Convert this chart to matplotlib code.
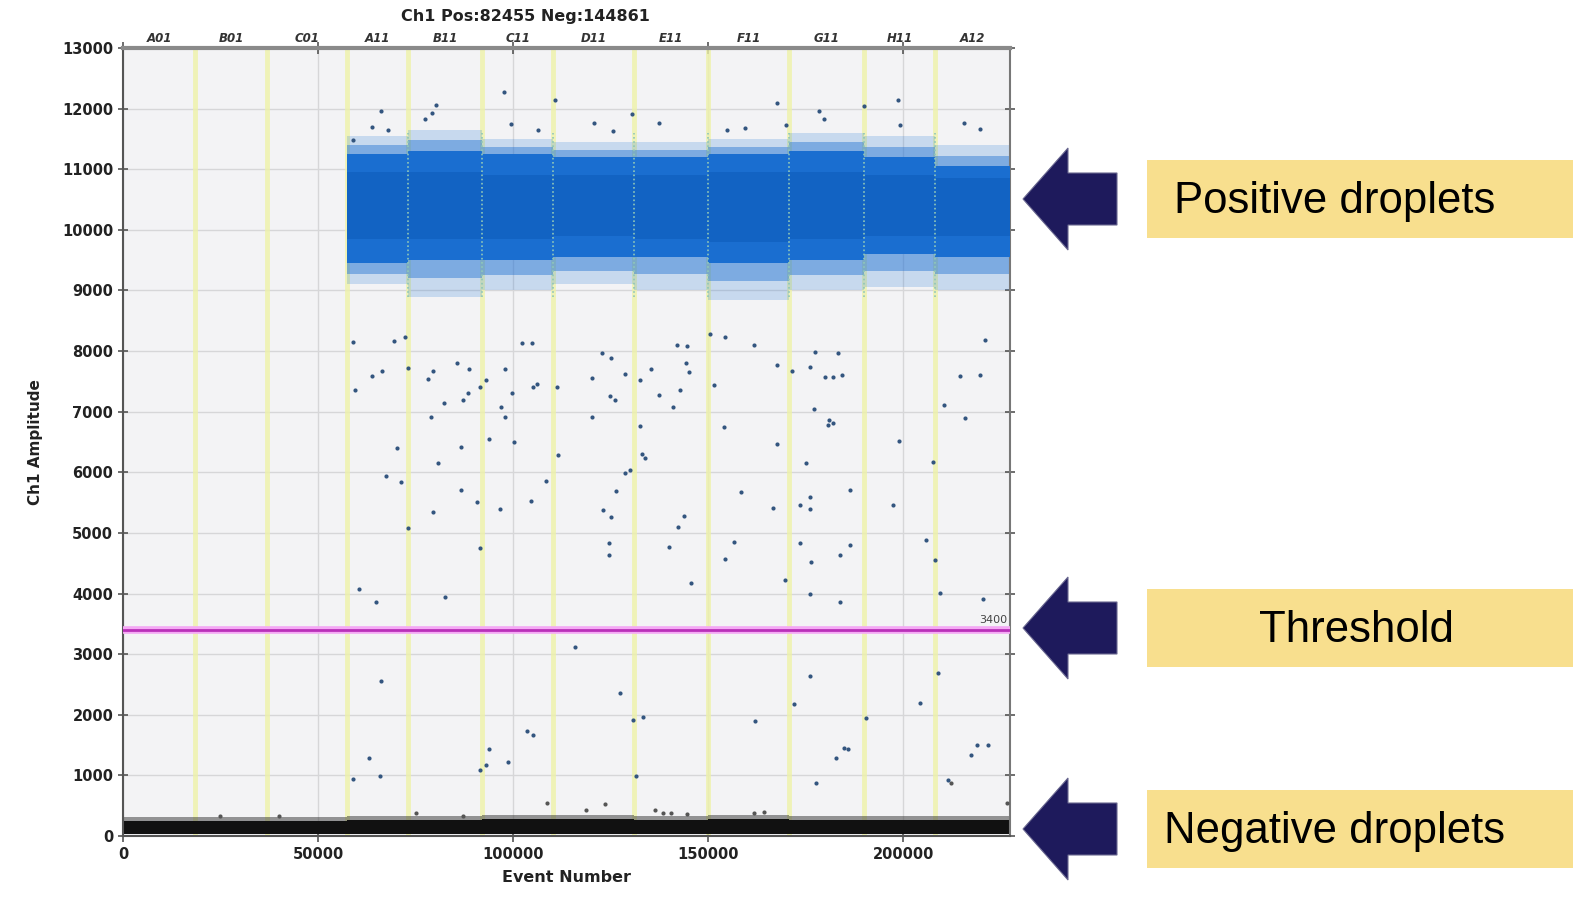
import numpy as np
import matplotlib
matplotlib.use("Agg")
import matplotlib.pyplot as plt
from matplotlib.patches import Polygon, Rectangle
from matplotlib.transforms import blended_transform_factory

# wells and their event ranges
wells = ["A01", "B01", "C01", "A11", "B11", "C11", "D11", "E11", "F11", "G11", "H11", "A12"]
well_edges = [0, 18460, 36920, 57440, 73080, 92050, 110260, 131030, 150000, 170770, 190000, 208210, 227316]

# positive cluster (wells A11..A12), amplitude limits
pos_fringe_hi = [11550, 11650, 11500, 11450, 11450, 11500, 11600, 11550, 11400]
pos_dense_hi = [11250, 11300, 11250, 11200, 11200, 11250, 11300, 11200, 11050]
pos_core_hi = [10950, 10950, 10900, 10900, 10900, 10950, 10950, 10900, 10850]
pos_core_lo = [9850, 9850, 9850, 9900, 9850, 9800, 9850, 9900, 9900]
pos_dense_lo = [9450, 9500, 9500, 9550, 9550, 9450, 9500, 9600, 9550]
pos_fringe_lo = [9100, 8900, 9000, 9100, 9000, 8850, 9000, 9050, 9000]

# negative cluster, all wells
neg_lo = [40, 40, 40, 30, 30, 30, 30, 30, 30, 30, 30, 30]
neg_hi = [250, 250, 250, 270, 270, 280, 280, 270, 280, 270, 270, 270]

threshold = 3400

# sparse droplets between the clusters
rain_x = [59050, 59490, 63930, 66490, 69490, 72310, 73160, 70180, 67350, 71280, 73160, 60600, 64790,
          66150, 63160, 58890, 65900, 78290, 78890, 79400, 82310, 80680, 79400, 82560, 85560, 88550,
          87100, 88380, 86590, 86670, 90690, 91370, 91540, 93080, 93670, 96920, 97950, 96490, 100080,
          99650, 97950, 102220, 104790, 105200, 106220, 111190, 111460, 108460, 104530, 115720, 103510,
          105050, 93670, 93080, 91370, 98640, 120180, 120180, 124870, 126150, 122740, 125040, 128720,
          132560, 132560, 132990, 133850, 128540, 129990, 126410, 122910, 125130, 124440, 124440,
          127440, 130590, 133160, 131540, 135300, 137260, 140950, 142820, 144360, 144950, 151360,
          153920, 143850, 142220, 139820, 158460, 156490, 154360, 145640, 161870, 171870, 175970,
          177690, 182820, 184700, 185810, 167610, 166590, 173410, 176150, 176150, 175120, 173590,
          176410, 175970, 183670, 177010, 180850, 181960, 179830, 181960, 184270, 171460, 176150,
          167610, 183240, 177430, 154180, 150510, 161620, 144530, 141970, 204360, 208970, 208200,
          207690, 198970, 197430, 190510, 205900, 209480, 211540, 220510, 218970, 221790, 217430,
          214620, 215900, 219740, 210510, 221020, 186410, 183850, 186410, 180770, 169740,
          97690, 110770, 66150, 80250, 79140, 77430, 63760, 68030, 120600, 137260, 125560, 106480,
          99480, 130420, 59060, 167610, 198540, 189980, 178290, 179570, 154790, 159490, 215630,
          219570, 170000, 199050]
rain_y = [8155, 7358, 7594, 7676, 8171, 8227, 7716, 6396, 5939, 5845, 5076, 4070, 3855,
          2562, 1292, 935, 990, 7534, 6907, 7676, 7148, 6149, 5350, 3948, 7798, 7699,
          7193, 7313, 6424, 5708, 5515, 4746, 7402, 7523, 6545, 7072, 6907, 5390, 6506,
          7313, 7699, 8138, 8138, 7413, 7456, 7413, 6287, 5857, 5532, 3113, 1732,
          1666, 1430, 1171, 1089, 1215, 7556, 6907, 7259, 7193, 7973, 7881, 7622,
          7523, 6769, 6302, 6231, 5994, 6038, 5691, 5374, 5263, 4829, 4636,
          2353, 1914, 1968, 990, 7699, 7275, 7083, 7358, 7798, 7659, 7440,
          6752, 5281, 5100, 4763, 5670, 4845, 4570, 4169, 1897, 2172, 2645,
          869, 1292, 1457, 1430, 6462, 5416, 5461, 5598, 5389, 6149, 4829,
          4515, 3987, 3866, 7045, 6863, 6819, 7567, 7567, 7605, 7676, 7742,
          7770, 7973, 7990, 8227, 8282, 8100, 8083, 8100, 2194, 2689, 4553,
          6170, 6516, 5460, 1947, 4883, 4009, 924, 3910, 1501, 1501, 1336,
          7589, 6896, 7605, 7110, 8183, 4800, 4636, 5708, 6780, 4223,
          12280, 12142, 11965, 12059, 11932, 11822, 11700, 11646, 11767, 11756, 11635, 11646,
          11739, 11910, 11480, 12098, 12142, 12043, 11955, 11822, 11646, 11674, 11767,
          11657, 11729, 11729]

# stray droplets just above the negative cluster
low_x = [24870, 40080, 75130, 108630, 118640, 87260, 138380, 140510, 144530, 123590, 136410,
         161620, 164180, 212230, 226580]
low_y = [335, 335, 374, 539, 429, 330, 385, 385, 363, 528, 429, 374, 390, 869, 549]

W, H = 1573, 907
fig = plt.figure(figsize=(W / 100, H / 100), dpi=100)
ax = fig.add_axes([123 / W, 1 - 836 / H, (1010 - 123) / W, (836 - 48) / H])
ax.set_facecolor("#F3F3F5")

ax.set_xlim(0, well_edges[-1])
ax.set_ylim(0, 13000)

# grid
ax.set_yticks(np.arange(0, 13001, 1000))
ax.set_xticks([0, 50000, 100000, 150000, 200000])
ax.grid(True, color="#D6D6D8", linewidth=1.0, zorder=0)
ax.set_axisbelow(True)

# well boundaries
for e in well_edges[1:-1]:
    ax.axvline(e, color="#EEF2A8", linewidth=3.5, alpha=0.8, zorder=1)

# negative cluster
for i in range(len(wells)):
    x0, x1 = well_edges[i], well_edges[i + 1]
    ax.fill_between([x0, x1], [neg_lo[i]] * 2, [neg_hi[i]] * 2, color="#111111", zorder=2, linewidth=0)
    ax.fill_between([x0, x1], [neg_hi[i]] * 2, [neg_hi[i] + 60] * 2, color="#333333", alpha=0.5,
                    zorder=2, linewidth=0)

# positive cluster: fringe, shoulder, dense body, core
for j in range(len(pos_dense_hi)):
    x0, x1 = well_edges[j + 3], well_edges[j + 4]
    xs = [x0, x1]
    top_mid = (pos_fringe_hi[j] + pos_dense_hi[j]) / 2
    bot_mid = (pos_fringe_lo[j] + pos_dense_lo[j]) / 2
    ax.fill_between(xs, [pos_fringe_lo[j]] * 2, [pos_fringe_hi[j]] * 2, color="#2F7DD6", alpha=0.22,
                    zorder=2, linewidth=0)
    ax.fill_between(xs, [bot_mid] * 2, [top_mid] * 2, color="#2474D3", alpha=0.45,
                    zorder=2, linewidth=0)
    ax.fill_between(xs, [pos_dense_lo[j]] * 2, [pos_dense_hi[j]] * 2, color="#1A6ED0", zorder=3, linewidth=0)
    ax.fill_between(xs, [pos_core_lo[j]] * 2, [pos_core_hi[j]] * 2, color="#1263C3", zorder=3, linewidth=0)

# boundary lines show through the cluster
for e in well_edges[4:-1]:
    ax.axvline(e, ymin=8900 / 13000, ymax=11600 / 13000, color="#8FC7B8", linewidth=1.2,
               linestyle=(0, (1, 1.5)), zorder=4)

ax.scatter(rain_x, rain_y, s=9, color="#33557F", linewidths=0, zorder=5)
ax.scatter(low_x, low_y, s=9, color="#555555", linewidths=0, zorder=5)

# threshold
ax.axhline(threshold, color="#F4A8F4", linewidth=5.5, zorder=6)
ax.axhline(threshold, color="#B930B9", linewidth=2, zorder=6)
ax.text(well_edges[-1] - 800, threshold + 80, str(threshold), ha="right", va="bottom",
        fontsize=8, color="#444444", zorder=7)

# ticks and spines
ax.tick_params(axis="y", which="both", direction="inout", length=7, width=1.2, color="#555555",
               labelsize=10.5, labelcolor="#222222", right=True)
ax.tick_params(axis="x", which="both", direction="inout", length=9, width=1.2, color="#555555",
               labelsize=10.5, labelcolor="#222222", top=True)
for lab in ax.get_xticklabels() + ax.get_yticklabels():
    lab.set_fontweight("bold")
for side in ["left", "bottom"]:
    ax.spines[side].set_color("#555555")
    ax.spines[side].set_linewidth(1.5)
ax.spines["top"].set_color("#8A8A8A")
ax.spines["top"].set_linewidth(3)
ax.spines["right"].set_color("#777777")
ax.spines["right"].set_linewidth(1.5)

ax.set_xlabel("Event Number", fontsize=11.5, fontweight="bold", color="#222222", labelpad=6)
ax.set_ylabel("Ch1 Amplitude", fontsize=11, fontweight="bold", color="#222222", labelpad=14)

# well names above the plot
tr = blended_transform_factory(ax.transData, ax.transAxes)
for i, w in enumerate(wells):
    xc = (well_edges[i] + well_edges[i + 1]) / 2
    ax.text(xc, 1.004, w, transform=tr, ha="center", va="bottom", fontsize=8.5,
            fontstyle="italic", fontweight="bold", color="#333333")

fig.text(525 / W, 1 - 17 / H, "Ch1 Pos:82455 Neg:144861", ha="center", va="center",
         fontsize=11.5, fontweight="bold", color="#222222")


# annotations on the right
def fpt(px, py):
    return (px / W, 1 - py / H)


ann_labels = ["Positive droplets", "Threshold", "Negative droplets"]
ann_y = [199, 628, 829]
ann_tx = [1335, 1357, 1335]
for label, yc, tx in zip(ann_labels, ann_y, ann_tx):
    pts = [fpt(1023, yc), fpt(1068, yc - 51), fpt(1068, yc - 26), fpt(1117, yc - 26),
           fpt(1117, yc + 26), fpt(1068, yc + 26), fpt(1068, yc + 51)]
    fig.patches.append(Polygon(pts, closed=True, transform=fig.transFigure, facecolor="#1E1A5C",
                               edgecolor="#6A6890", linewidth=0.8))
    x0, y0 = fpt(1147, yc + 39)
    fig.patches.append(Rectangle((x0, y0), (W - 1147) / W, 78 / H, transform=fig.transFigure,
                                 facecolor="#F8DF8E", edgecolor="none"))
    fig.text(tx / W, 1 - (yc + 2) / H, label, ha="center", va="center", fontsize=31.5,
             family="Liberation Sans", color="black")

fig.savefig("out.png", dpi=100, facecolor="white")
